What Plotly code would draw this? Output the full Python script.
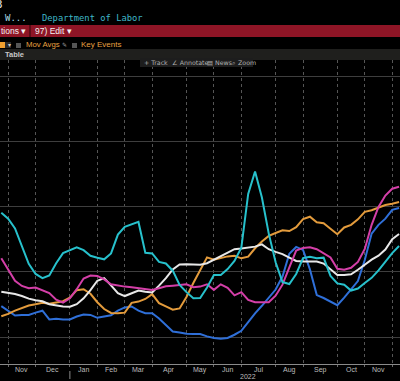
import pandas as pd
import plotly.graph_objects as go

# ---- data (weekly) ----
dates = pd.date_range("2021-10-29", periods=59, freq="7D")

cyan = [58.2, 56.4, 53.4, 48.2, 42.5, 39.4, 38.1, 38.9, 42.7, 45.8,
        46.8, 47.6, 46.7, 45.0, 44.4, 43.9, 45.7, 51.5, 53.9, 54.7,
        55.4, 45.9, 45.7, 43.1, 42.6, 40.4, 36.0, 33.8, 31.9, 32.0,
        35.2, 39.1, 39.1, 40.9, 43.4, 47.5, 64.0, 70.9, 62.9, 51.8,
        43.0, 36.9, 36.3, 39.4, 44.3, 44.7, 44.2, 44.4, 38.8, 36.5,
        36.1, 34.3, 34.9, 36.6, 38.2, 40.5, 43.3, 45.8, 48.0]
magenta = [44.2, 40.7, 37.3, 35.7, 35.0, 35.2, 34.4, 33.5, 31.5, 30.6,
           31.9, 34.7, 38.0, 38.9, 38.8, 37.7, 36.2, 35.8, 35.5, 35.3,
           35.0, 34.8, 34.5, 35.0, 35.6, 35.8, 36.0, 36.2, 35.3, 35.5,
           36.2, 34.5, 36.2, 35.1, 32.8, 33.8, 31.4, 30.7, 30.7, 30.7,
           32.7, 36.1, 41.4, 46.6, 47.4, 47.6, 47.0, 45.8, 44.5, 41.0,
           40.7, 41.3, 43.1, 47.1, 54.5, 60.0, 63.5, 65.6, 66.2]
orange = [26.4, 27.1, 28.1, 29.0, 29.7, 30.1, 30.5, 30.2, 30.5, 31.0,
          32.1, 34.4, 34.7, 33.3, 30.7, 28.6, 27.4, 27.3, 27.5, 30.5,
          30.9, 31.7, 33.2, 30.4, 29.4, 28.4, 28.8, 32.3, 36.6, 40.7,
          44.5, 43.8, 44.3, 44.8, 45.0, 44.2, 44.7, 47.3, 49.4, 51.1,
          52.0, 52.8, 52.6, 53.8, 56.3, 57.0, 55.3, 55.0, 53.3, 51.6,
          53.7, 54.5, 56.2, 58.5, 59.0, 59.7, 60.6, 61.0, 61.5]
white = [33.9, 33.6, 33.2, 32.6, 31.8, 31.3, 31.0, 30.1, 29.7, 29.4,
         29.3, 30.1, 31.9, 34.4, 37.3, 38.1, 35.9, 33.5, 32.6, 33.4,
         34.3, 33.9, 33.7, 35.8, 38.1, 40.8, 42.3, 42.4, 42.3, 42.2,
         42.7, 43.8, 44.7, 45.8, 47.0, 47.2, 47.5, 47.8, 48.5, 47.0,
         46.2, 45.5, 44.4, 43.4, 43.2, 43.2, 43.2, 42.6, 40.7, 39.1,
         39.1, 39.3, 40.7, 42.2, 43.8, 45.0, 46.9, 50.1, 51.7]
blue = [29.5, 28.0, 26.6, 26.8, 26.8, 27.5, 28.1, 25.4, 25.6, 25.4,
        25.4, 26.3, 26.9, 26.8, 25.9, 26.3, 26.7, 28.1, 29.1, 29.4,
        28.1, 27.3, 27.3, 25.7, 23.6, 21.7, 21.4, 21.0, 20.9, 20.9,
        20.2, 19.7, 19.5, 19.7, 20.7, 21.9, 24.6, 27.3, 29.6, 32.1,
        34.6, 38.6, 45.6, 47.7, 46.8, 40.8, 32.9, 32.0, 31.0, 29.8,
        32.1, 34.6, 37.2, 43.7, 51.8, 54.5, 56.4, 59.1, 59.7]

y_ticks = [20, 40, 60, 80, 100]

series = [
    ("Blue", blue, "#2f6fd8"),
    ("Orange", orange, "#e39b3c"),
    ("White", white, "#e8e8e8"),
    ("Magenta", magenta, "#d43fa8"),
    ("Cyan", cyan, "#27c1cc"),
]

fig = go.Figure()
for name, vals, col in series:
    fig.add_trace(go.Scatter(x=dates, y=vals, mode="lines", name=name,
                             line=dict(color=col, width=2), showlegend=False,
                             hoverinfo="skip"))

# month gridlines at first weekly point of each month
months = [d for i, d in enumerate(dates) if i > 0 and d.month != dates[i - 1].month]
mids = [months[i] + (months[i + 1] - months[i]) / 2 for i in range(len(months) - 1)]
labels = [m.strftime("%b") for m in months[:-1]]

W, H, TOP, BOT = 400, 381, 60, 364
PH = BOT - TOP


def py(ypx):
    return (BOT - ypx) / PH


annotations = []
for m, lab in zip(mids, labels):
    annotations.append(dict(x=m, xref="x", y=py(369.5), yref="paper", text=lab,
                            showarrow=False, font=dict(size=7, color="#bdbdbd",
                                                       family="Liberation Sans"),
                            xanchor="center", yanchor="middle"))
annotations.append(dict(x=dates[36], xref="x", y=py(376.5), yref="paper", text="2022",
                        showarrow=False, font=dict(size=7, color="#bdbdbd",
                                                   family="Liberation Sans"),
                        xanchor="center", yanchor="middle"))


def txt(xpx, ypx, text, color, size, family="DejaVu Sans Mono", xanchor="left"):
    annotations.append(dict(x=xpx / W, xref="paper", y=py(ypx), yref="paper", text=text,
                            showarrow=False, font=dict(size=size, color=color, family=family),
                            xanchor=xanchor, yanchor="middle"))


shapes = []


def rect(x0, y0, x1, y1, color):
    shapes.append(dict(type="rect", xref="paper", yref="paper", x0=x0 / W, x1=x1 / W,
                       y0=py(y1), y1=py(y0), fillcolor=color, line=dict(width=0), layer="above"))


# header bars
rect(0, 25, 400, 37, "#8e1526")
shapes.append(dict(type="line", xref="paper", yref="paper", x0=30 / W, x1=30 / W,
                   y0=py(37), y1=py(25), line=dict(color="#4a0a12", width=1.5)))
rect(0, 49, 400, 60, "#1f1f1d")
rect(0, 42, 5, 48, "#f0a030")
rect(5, 42, 11, 48, "#2a2a2a")
rect(16, 43, 21, 48, "#555555")
rect(72, 43, 77, 48, "#555555")
rect(140, 58, 253, 67, "#1d1d1d")

txt(4.5, 5, "3", "#e6e6e6", 11, xanchor="right")
txt(3, 17.5, "W...", "#a8dce6", 9)
txt(40, 17.5, "Department of Labor", "#3fb8c8", 8.8)
txt(-1, 31, "tions \u25be", "#f2f2f2", 8.5, family="Liberation Sans")
txt(33, 31, "97) Edit \u25be", "#f2f2f2", 8.5, family="Liberation Sans")
txt(5.5, 45, "\u25be", "#cccccc", 6, family="DejaVu Sans")
txt(24, 45, "Mov Avgs", "#e8a040", 7.8, family="Liberation Sans")
txt(60, 45, "\u270e", "#9a9a9a", 6, family="DejaVu Sans")
txt(79, 45, "Key Events", "#e8a040", 8, family="Liberation Sans")
txt(3, 54.5, "<b>Table</b>", "#c8c8c8", 7.5, family="Liberation Sans")
txt(142, 62.5, "+ Track", "#b0b0b0", 6.3, family="DejaVu Sans")
txt(170, 62.5, "\u2220 Annotate", "#b0b0b0", 6.3, family="DejaVu Sans")
txt(205, 62.5, "\u25a4 News", "#b0b0b0", 6.3, family="DejaVu Sans")
txt(230, 62.5, "\u2315 Zoom", "#b0b0b0", 6.3, family="DejaVu Sans")

# year divider below axis
shapes.append(dict(type="line", xref="x", yref="paper", x0=months[2], x1=months[2],
                   y0=py(379), y1=py(371), line=dict(color="#8a8a8a", width=1)))

fig.update_layout(
    width=W, height=H,
    margin=dict(l=0, r=0, t=TOP, b=H - BOT, pad=0),
    paper_bgcolor="#000000", plot_bgcolor="#000000",
    annotations=annotations, shapes=shapes,
    xaxis=dict(type="date", range=["2021-10-27 16:00", "2022-12-09 23:00"],
               tickvals=months, ticktext=[""] * len(months),
               showgrid=True, gridcolor="#555555", griddash="dot", gridwidth=1,
               showline=True, linecolor="#8a8a8a", linewidth=1,
               ticks="outside", ticklen=2, tickcolor="#6a6a6a",
               zeroline=False, fixedrange=True),
    yaxis=dict(range=[11.7, 105.2], tickvals=y_ticks, showticklabels=False,
               showgrid=True, gridcolor="#3e3e3e", gridwidth=1,
               zeroline=False, showline=False, ticks="", fixedrange=True),
    hovermode=False,
)

fig.write_html("out.html", config={"displayModeBar": False},
               post_script="document.body.style.margin='0px';"
                           "document.body.style.background='#000000';")
